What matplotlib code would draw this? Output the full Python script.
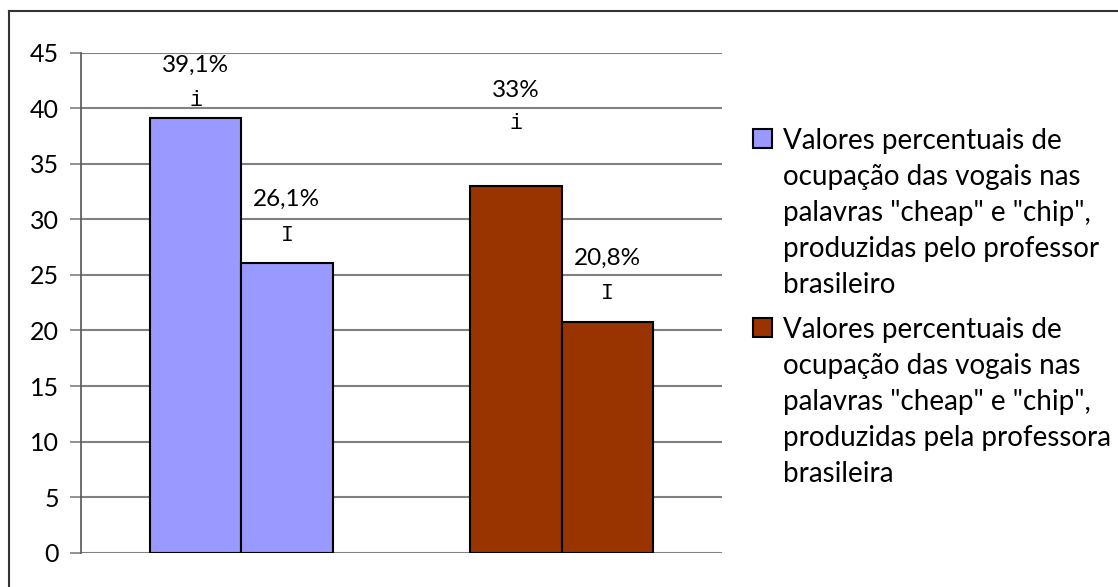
import matplotlib
matplotlib.use("Agg")
import matplotlib.pyplot as plt
from matplotlib.patches import Rectangle
import numpy as np

# Data
series_labels = [
    ['Valores percentuais de', 'ocupação das vogais nas',
     'palavras "cheap" e "chip",', 'produzidas pelo professor', 'brasileiro'],
    ['Valores percentuais de', 'ocupação das vogais nas',
     'palavras "cheap" e "chip",', 'produzidas pela professora', 'brasileira'],
]
vowel_labels = ["i", "I"]
teacher_m = [39.1, 26.1]
teacher_f = [33.0, 20.8]
value_text_m = ["39,1%", "26,1%"]
value_text_f = ["33%", "20,8%"]
colors = ["#9999FF", "#993300"]
yticks = [0, 5, 10, 15, 20, 25, 30, 35, 40, 45]

# label offsets above each bar top (pixels): percentage line, vowel line
pct_offsets = [[53, 63], [95, 63]]
vowel_offsets = [[18, 27], [62, 28]]

W, H = 1118, 587
fig = plt.figure(figsize=(W / 100, H / 100), dpi=100)
fig.patch.set_facecolor("white")

# outer frame (top and left edges visible)
fig.add_artist(plt.Line2D([9 / W, 1.02], [1 - 10.5 / H, 1 - 10.5 / H],
                          transform=fig.transFigure, color="#333333", lw=1.5))
fig.add_artist(plt.Line2D([9 / W, 9 / W], [1 - 10.5 / H, -0.02],
                          transform=fig.transFigure, color="#333333", lw=1.5))

ax = fig.add_axes([81 / W, 1 - 552.7 / H, (722 - 81) / W, (552.7 - 52.6) / H])
ax.set_xlim(0, 2)
ax.set_ylim(0, 45)

font = "Lato"
mono = "Liberation Mono"

ax.set_yticks(yticks)
ax.set_yticklabels([str(t) for t in yticks], fontsize=18, family=font)
ax.tick_params(axis="y", length=8, width=1.2, color="#808080", pad=8)
ax.set_xticks([])
ax.yaxis.grid(True, color="#808080", lw=1.5)
ax.set_axisbelow(True)
for s in ["top", "right", "bottom"]:
    ax.spines[s].set_visible(False)
ax.spines["left"].set_color("#555555")
ax.spines["left"].set_linewidth(1.2)

width = 0.285
centers = np.array([0.5, 1.5])
groups = [teacher_m, teacher_f]
texts = [value_text_m, value_text_f]
for g, (vals, txts) in enumerate(zip(groups, texts)):
    xs = centers[g] + np.array([-width / 2, width / 2])
    bars = ax.bar(xs, vals, width=width, color=colors[g], edgecolor="black",
                  linewidth=1.5, zorder=3)
    for k, (b, v) in enumerate(zip(bars, vals)):
        x = b.get_x() + b.get_width() / 2
        ax.annotate(txts[k], (x, v), xytext=(0, pct_offsets[g][k]),
                    textcoords="offset pixels", ha="center", va="center",
                    fontsize=17.5, family=font, annotation_clip=False)
        ax.annotate(vowel_labels[k], (x, v), xytext=(0, vowel_offsets[g][k]),
                    textcoords="offset pixels", ha="center", va="center",
                    fontsize=15.5, family=mono, annotation_clip=False)

# legend: colour key square and wrapped label lines
legend_top = [149.3, 338.3]   # baseline of each entry's first line (px)
line_step = 36
for c, lines, base in zip(colors, series_labels, legend_top):
    fig.add_artist(Rectangle((753 / W, 1 - (base - 1.5) / H), 19 / W, 18.5 / H,
                             transform=fig.transFigure, facecolor=c,
                             edgecolor="black", lw=1.5))
    for i, line in enumerate(lines):
        fig.text(783 / W, 1 - (base + i * line_step) / H, line,
                 family=font, fontsize=20, ha="left", va="baseline")

fig.savefig("out.png", dpi=100)
